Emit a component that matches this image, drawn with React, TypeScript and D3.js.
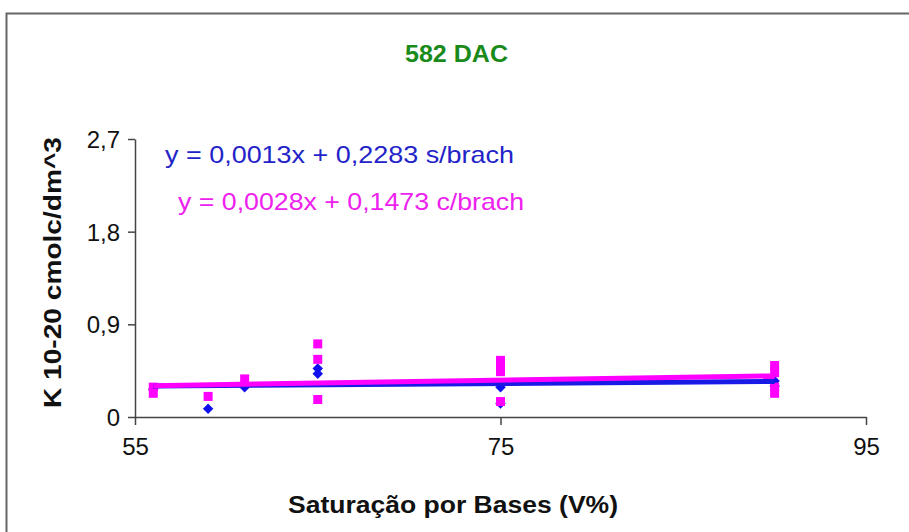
// @ts-nocheck
import React, { useEffect, useRef } from "react";
import * as d3 from "d3";

// s/brach (blue diamonds)
const blueX = [56, 59, 61, 65, 65, 75, 75, 90, 90];
const blueY = [0.27, 0.08, 0.29, 0.42, 0.47, 0.29, 0.13, 0.35, 0.3];
// c/brach (pink squares)
const pinkX = [56, 56, 59, 61, 65, 65, 65, 75, 75, 75, 75, 90, 90, 90, 90];
const pinkY = [0.23, 0.29, 0.2, 0.37, 0.71, 0.56, 0.17, 0.55, 0.49, 0.44, 0.15, 0.5, 0.43, 0.29, 0.23];

// trendline coefficients [slope, intercept]
const blueFit = [0.0013, 0.2283];
const pinkFit = [0.0028, 0.1473];

const xTicks = [55, 75, 95];
const yTicks = [0, 0.9, 1.8, 2.7];

const FONT = "'Liberation Sans', Arial, sans-serif";

const App = () => {
  const ref = useRef();

  useEffect(() => {
    const svg = d3.select(ref.current);
    svg.selectAll("*").remove();

    const left = 135, right = 866, top = 139, bottom = 417;

    const x = d3.scaleLinear().domain([55, 95]).range([left, right]);
    const y = d3.scaleLinear().domain([0, 2.7]).range([bottom, top]);

    // outer frame
    svg.append("rect")
      .attr("x", 6.5).attr("y", 13.5)
      .attr("width", 1000).attr("height", 1000)
      .attr("fill", "white")
      .attr("stroke", "#666").attr("stroke-width", 2);

    // title
    svg.append("text")
      .attr("x", 405).attr("y", 62)
      .attr("textLength", 103).attr("lengthAdjust", "spacingAndGlyphs")
      .attr("font-family", FONT).attr("font-size", 23).attr("font-weight", "bold")
      .attr("fill", "#1a8a1a")
      .text("582 DAC");

    // axes
    const fmt = d => (d === 0 ? "0" : d3.format(".1f")(d).replace(".", ","));
    const yAxis = svg.append("g")
      .attr("transform", `translate(${left},0)`)
      .call(d3.axisLeft(y).tickValues(yTicks).tickFormat(fmt).tickSize(7).tickSizeOuter(0).tickPadding(8));
    const xAxis = svg.append("g")
      .attr("transform", `translate(0,${bottom})`)
      .call(d3.axisBottom(x).tickValues(xTicks).tickSize(8).tickSizeOuter(0).tickPadding(13));

    [xAxis, yAxis].forEach(g => {
      g.selectAll("path, line").attr("stroke", "#444").attr("stroke-width", 1.5);
      g.selectAll("text")
        .attr("font-family", FONT).attr("font-size", 24).attr("fill", "#111")
        .attr("transform", "scale(0.92,1)");
    });
    yAxis.selectAll("text").attr("dy", "0.36em").attr("transform", null);
    xAxis.selectAll("text").attr("transform", null);

    // markers: blue diamonds first, pink squares on top
    const diamond = d3.symbol().type(d3.symbolDiamond2).size(70);
    svg.append("g").selectAll("path")
      .data(blueX.map((v, i) => [v, blueY[i]]))
      .join("path")
      .attr("transform", d => `translate(${x(d[0])},${y(d[1])})`)
      .attr("d", diamond)
      .attr("fill", "#1010ee");

    svg.append("g").selectAll("rect")
      .data(pinkX.map((v, i) => [v, pinkY[i]]))
      .join("rect")
      .attr("x", d => x(d[0]) - 4.5)
      .attr("y", d => y(d[1]) - 4.5)
      .attr("width", 9).attr("height", 9)
      .attr("fill", "#ff00ff");

    // trendlines
    const fitLine = (xs, fit, color) => {
      const ext = d3.extent(xs);
      svg.append("path")
        .datum(ext.map(v => [v, fit[0] * v + fit[1]]))
        .attr("d", d3.line().x(d => x(d[0])).y(d => y(d[1])))
        .attr("fill", "none")
        .attr("stroke", color)
        .attr("stroke-width", 5);
    };
    fitLine(blueX, blueFit, "#1a1ae6");
    fitLine(pinkX, pinkFit, "#ff00ff");

    // equation labels
    svg.append("text")
      .attr("x", 165).attr("y", 163)
      .attr("textLength", 349).attr("lengthAdjust", "spacingAndGlyphs")
      .attr("font-family", FONT).attr("font-size", 24)
      .attr("fill", "#2323c8")
      .text("y = 0,0013x + 0,2283 s/brach");
    svg.append("text")
      .attr("x", 178).attr("y", 210)
      .attr("textLength", 346).attr("lengthAdjust", "spacingAndGlyphs")
      .attr("font-family", FONT).attr("font-size", 24)
      .attr("fill", "#ee22ee")
      .text("y = 0,0028x + 0,1473 c/brach");

    // axis titles
    svg.append("text")
      .attr("x", 288).attr("y", 513)
      .attr("textLength", 330).attr("lengthAdjust", "spacingAndGlyphs")
      .attr("font-family", FONT).attr("font-size", 23).attr("font-weight", "bold")
      .attr("fill", "#111")
      .text("Saturação por Bases (V%)");
    svg.append("text")
      .attr("transform", "translate(61,408) rotate(-90)")
      .attr("textLength", 271).attr("lengthAdjust", "spacingAndGlyphs")
      .attr("font-family", FONT).attr("font-size", 23).attr("font-weight", "bold")
      .attr("fill", "#111")
      .text("K 10-20 cmolc/dm^3");
  }, []);

  return (
    <svg
      ref={ref}
      width={909}
      height={532}
      style={{ position: "absolute", left: 0, top: 0, background: "white" }}
    />
  );
};

export default App;
